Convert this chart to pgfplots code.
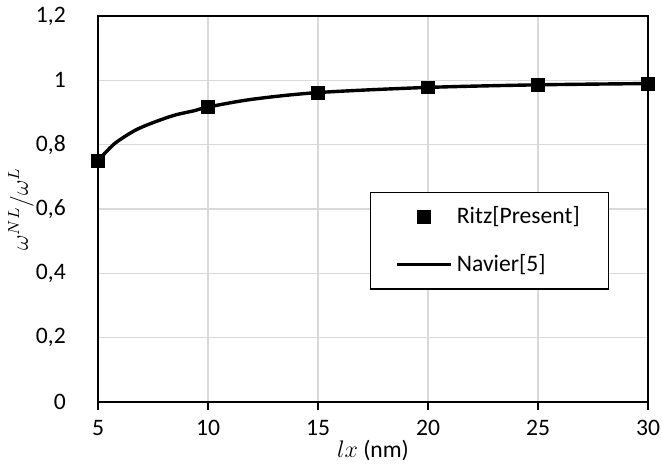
\documentclass[border=0pt]{standalone}
\usepackage{pgfplots}
\pgfplotsset{compat=1.18}
\usepackage{fontspec}
\setmainfont{Carlito}
\definecolor{gridgray}{RGB}{217,217,217}
\begin{document}
\fontsize{11.8}{14}\selectfont
\begin{tikzpicture}
\path[use as bounding box] (-49pt,-32pt) rectangle (282pt,201pt);
\begin{axis}[
  at={(0,0)}, anchor=south west,
  scale only axis, width=275pt, height=193pt,
  xmin=5, xmax=30, ymin=0, ymax=1.2,
  xtick={5,10,...,30},
  ytick={0,0.2,0.4,0.6,0.8,1,1.2},
  grid=major,
  major grid style={gridgray, line width=0.6pt},
  axis line style={black, line width=0.7pt},
  xtick style={black, line width=0.7pt},
  major tick length=4pt,
  xtick pos=bottom, tick align=outside,
  ytick style={draw=none},
  /pgf/number format/use comma,
  /pgf/number format/assume math mode=true,
  tick label style={font=\fontsize{11.8}{14}\selectfont},
  yticklabel style={xshift=-8pt},
  xticklabel style={yshift=-1pt},
  xlabel={$lx$ (nm)},
  ylabel={$\omega^{NL}/\omega^{L}$},
  label style={font=\fontsize{11.8}{14}\selectfont},
  xlabel style={at={(axis description cs:0.5,0)}, anchor=center, yshift=-24pt},
  ylabel style={at={(axis description cs:0,0.5)}, anchor=center, yshift=38.5pt},
  legend style={at={(0.4945,0.544)}, anchor=north west, draw=black, line width=0.7pt,
    inner xsep=12.5pt, inner ysep=5pt, row sep=9.5pt,
    font=\fontsize{11.8}{14}\selectfont,
    cells={anchor=west}},
  legend cell align=left,
]
\addplot[only marks, mark=square*, mark size=3.2pt, black,
  legend image code/.code={\draw[mark=square*, mark size=3.2pt, only marks] plot coordinates {(13.5pt,0pt)}; \path (0pt,0pt) (27pt,0pt);}]
  coordinates {(5,0.75) (10,0.917) (15,0.962) (20,0.978) (25,0.986) (30,0.99)};
\addlegendentry{Ritz[Present]}
\addplot[black, line width=1.7pt, smooth, tension=0.5,
  legend image code/.code={\draw[line width=1.6pt] (0pt,0pt) -- (27pt,0pt);}]
  coordinates {(5,0.75) (5.75,0.803) (6.7,0.845) (7.6,0.871) (8.5,0.892) (9.4,0.906) (10,0.917) (12,0.941) (15,0.962) (20,0.978) (25,0.986) (30,0.99)};
\addlegendentry{Navier[5]}
\end{axis}
\end{tikzpicture}
\end{document}
